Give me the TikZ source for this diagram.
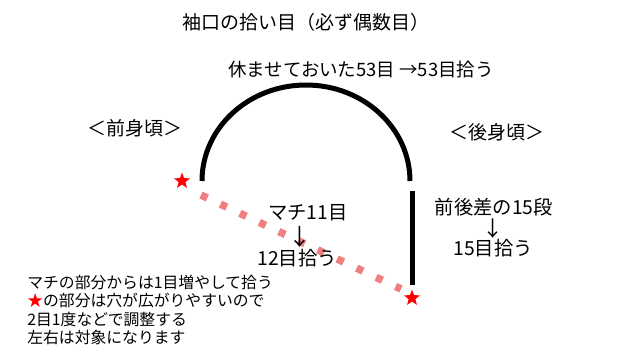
\documentclass[tikz,border=0pt]{standalone}
\usepackage{fontspec}
\setmainfont{Noto Sans CJK JP}
\usepackage{xcolor}
\usetikzlibrary{shapes.geometric}
\definecolor{gaugepink}{RGB}{240,128,128}

\begin{document}
\begin{tikzpicture}[x=0.02cm, y=0.02cm,
        lbl/.style={inner sep=0pt, font=\fontsize{10.8pt}{13pt}\selectfont},
        redstar/.style={star, star points=5, star point ratio=2.4, fill=red, inner sep=0pt, minimum size=0.34cm},
        seam/.style={line width=0.1cm}]
    \useasboundingbox (0,0) rectangle (640,360);
    \node[lbl] (title) at (306,338) {袖口の拾い目（必ず偶数目）};
    \node[lbl, font=\fontsize{10.5pt}{13pt}\selectfont] (rest) at (361,291) {休ませておいた53目 →53目拾う};
    \node[lbl] (front) at (135,232) {＜前身頃＞};
    \node[lbl] (back) at (497,228) {＜後身頃＞};
    \coordinate (arcl) at (202,179);
    \coordinate (vtop) at (412,169);
    \coordinate (vbot) at (412,75);
    \draw[seam] (arcl) arc[start angle=180, end angle=0, x radius=104, y radius=96];
    \draw[seam] (vtop) -- (vbot);
    \node[redstar] (fstar) at (182,179) {};
    \node[redstar] (bstar) at (412,62) {};
    \coordinate (gs) at (201,165);
    \coordinate (ge) at (401,71);
    \draw[gaugepink, line width=0.15cm, dash pattern=on 0.14cm off 0.29cm] (gs) -- (ge);
    \node[lbl, font=\fontsize{11pt}{13pt}\selectfont] (machi) at (308,147) {マチ11目};
    \node[lbl, font=\fontsize{13pt}{15pt}\selectfont] (down1) at (300,123) {↓};
    \node[lbl, font=\fontsize{11pt}{13pt}\selectfont] (pick12) at (297,102) {12目拾う};
    \node[lbl, font=\fontsize{11pt}{13pt}\selectfont] (diff) at (494,153) {前後差の15段};
    \node[lbl, font=\fontsize{12pt}{15pt}\selectfont] (down2) at (493,131) {↓};
    \node[lbl, font=\fontsize{11pt}{13pt}\selectfont] (pick15) at (493,112) {15目拾う};
    \node[lbl, anchor=west, align=left, font=\fontsize{9pt}{10.5pt}\selectfont] (note) at (27,50)
        {マチの部分からは1目増やして拾う\\ \textcolor{red}{★}の部分は穴が広がりやすいので\\ 2目1度などで調整する\\ 左右は対象になります};
\end{tikzpicture}
\end{document}
